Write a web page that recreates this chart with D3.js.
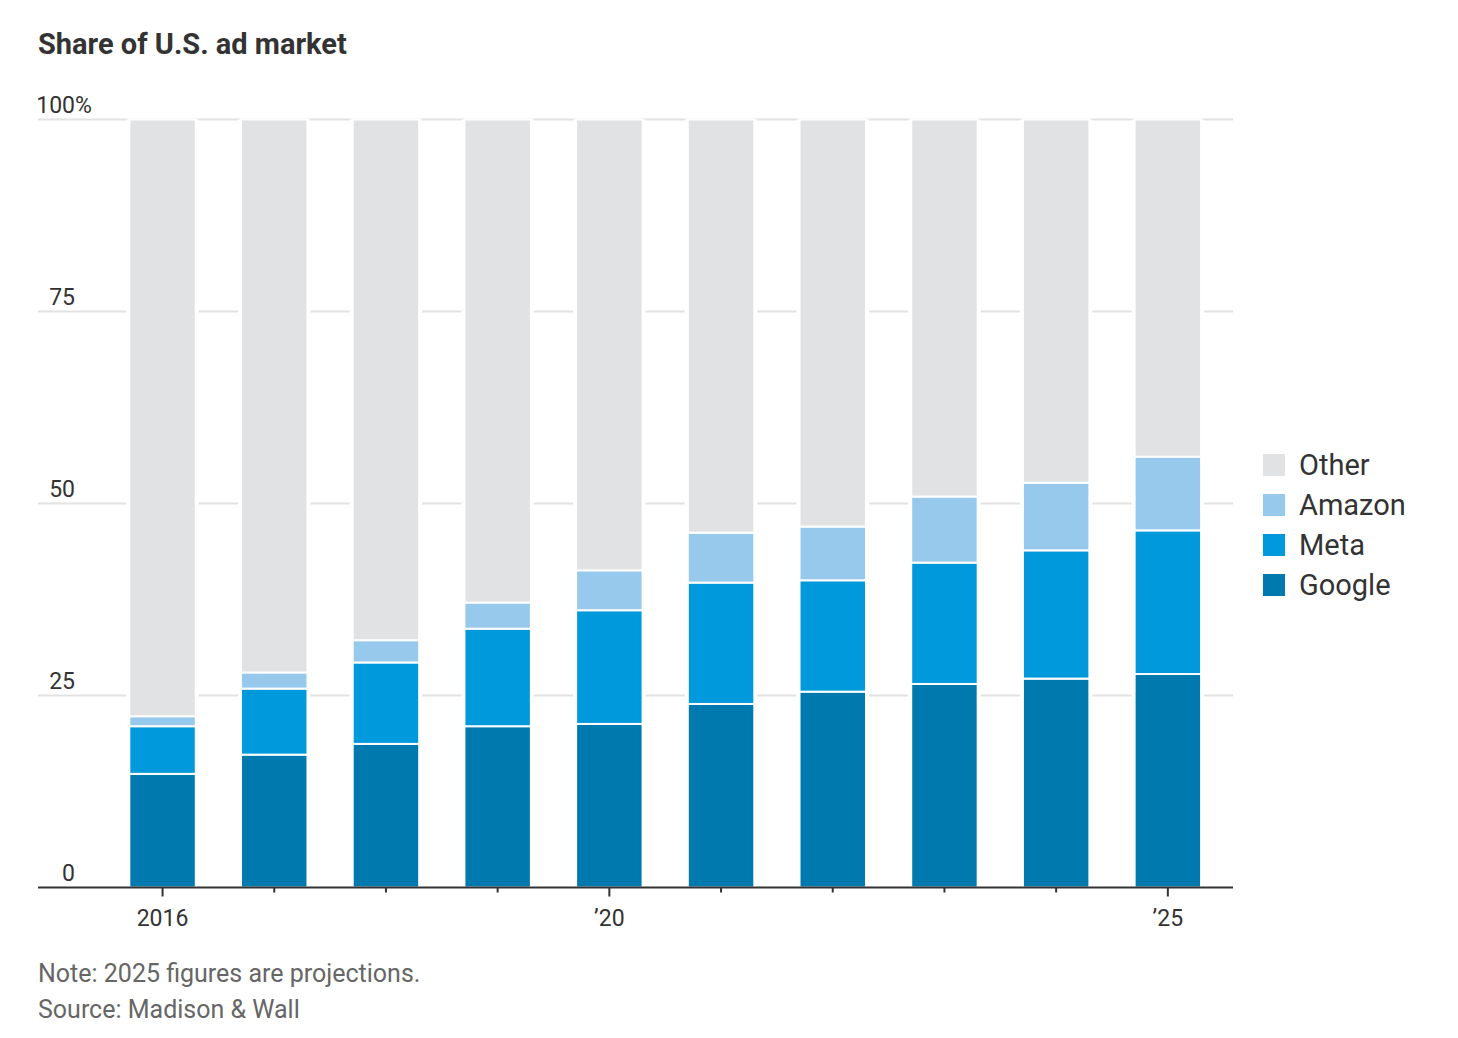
<!DOCTYPE html>
<html>
<head>
<meta charset="utf-8">
<script src="https://cdn.jsdelivr.net/npm/d3@7"></script>
<style>
  body { margin: 0; background: #fff; }
  text { font-family: Roboto, "Noto Sans", sans-serif; }
</style>
</head>
<body>
<div id="chart"></div>
<script>
// values (percent of U.S. ad market)
const years = [2016, 2017, 2018, 2019, 2020, 2021, 2022, 2023, 2024, 2025];
const google = [14.8, 17.3, 18.7, 21.0, 21.3, 23.9, 25.5, 26.5, 27.2, 27.8];
const meta = [6.2, 8.6, 10.6, 12.7, 14.8, 15.8, 14.5, 15.8, 16.7, 18.7];
const amazon = [1.3, 2.1, 2.9, 3.4, 5.2, 6.5, 7.0, 8.6, 8.8, 9.6];
const other = years.map((y, i) => 100 - google[i] - meta[i] - amazon[i]);

const seriesNames = ["Google", "Meta", "Amazon", "Other"];
const yTicks = [0, 25, 50, 75, 100];
const xTickLabels = {2016: "2016", 2020: "\u201920", 2025: "\u201925"};

const colors = {
  "Google": "#0079ae",
  "Meta": "#0099dc",
  "Amazon": "#97c9ec",
  "Other": "#e1e2e4"
};

const width = 1458, height = 1038;
const margin = {left: 38, right: 225, top: 120, bottom: 151};

const svg = d3.select("#chart").append("svg")
  .attr("width", width)
  .attr("height", height);

const table = years.map((y, i) => ({
  year: y, Google: google[i], Meta: meta[i], Amazon: amazon[i], Other: other[i]
}));
const stacked = d3.stack().keys(seriesNames)(table);

const x = d3.scaleBand()
  .domain(years)
  .range([106.7, 1223.7])
  .paddingInner(0.405)
  .paddingOuter(0.2025);

const y = d3.scaleLinear()
  .domain([0, 100])
  .range([height - margin.bottom + 0.5, 119.5]);

const plotRight = width - margin.right;

// gridlines
svg.append("g").selectAll("line.grid")
  .data(yTicks.filter(t => t > 0)).enter()
  .append("line")
  .attr("x1", margin.left)
  .attr("x2", plotRight)
  .attr("y1", d => y(d))
  .attr("y2", d => y(d))
  .attr("stroke", "#e2e2e2")
  .attr("stroke-width", 2);

// y labels
svg.append("g").selectAll("text.ylab")
  .data(yTicks).enter()
  .append("text")
  .attr("x", 75)
  .attr("y", d => y(d) - 7)
  .attr("text-anchor", "end")
  .attr("fill", "#333")
  .style("font-size", "23px")
  .text(d => d);
svg.append("text")
  .attr("x", 75)
  .attr("y", y(100) - 7)
  .attr("fill", "#333")
  .style("font-size", "23px")
  .text("%");

// white halo behind each bar to break gridlines
svg.append("g").selectAll("rect.halo")
  .data(years).enter()
  .append("rect")
  .attr("x", d => x(d) - 3)
  .attr("width", x.bandwidth() + 6)
  .attr("y", y(100))
  .attr("height", y(0) - y(100))
  .attr("fill", "#fff");

// bars
svg.append("g").selectAll("g.series")
  .data(stacked).enter()
  .append("g")
  .attr("fill", d => colors[d.key])
  .selectAll("rect")
  .data(d => d).enter()
  .append("rect")
  .attr("x", d => x(d.data.year))
  .attr("width", x.bandwidth())
  .attr("y", d => y(d[1]))
  .attr("height", d => y(d[0]) - y(d[1]))
  .attr("stroke", "#fff")
  .attr("stroke-width", 2);

// x axis
svg.append("line")
  .attr("x1", margin.left)
  .attr("x2", plotRight)
  .attr("y1", y(0))
  .attr("y2", y(0))
  .attr("stroke", "#333")
  .attr("stroke-width", 2);

svg.append("g").selectAll("line.tick")
  .data(years).enter()
  .append("line")
  .attr("x1", d => x(d) + x.bandwidth() / 2)
  .attr("x2", d => x(d) + x.bandwidth() / 2)
  .attr("y1", y(0))
  .attr("y2", d => y(0) + (xTickLabels[d] ? 9 : 5))
  .attr("stroke", "#333")
  .attr("stroke-width", 2);

svg.append("g").selectAll("text.xlab")
  .data(years.filter(d => xTickLabels[d])).enter()
  .append("text")
  .attr("x", d => x(d) + x.bandwidth() / 2)
  .attr("y", 926)
  .attr("text-anchor", "middle")
  .attr("fill", "#333")
  .style("font-size", "23px")
  .text(d => xTickLabels[d]);

// legend
const legend = svg.append("g").selectAll("g.legend")
  .data(seriesNames.slice().reverse()).enter()
  .append("g")
  .attr("transform", (d, i) => `translate(1263, ${454 + i * 40})`);
legend.append("rect")
  .attr("width", 22)
  .attr("height", 22)
  .attr("fill", d => colors[d]);
legend.append("text")
  .attr("x", 36)
  .attr("y", 21)
  .attr("fill", "#333")
  .style("font-size", "29px")
  .text(d => d);

// title and notes
svg.append("text")
  .attr("x", 38)
  .attr("y", 54)
  .attr("fill", "#333")
  .style("font-size", "29px")
  .style("font-weight", "bold")
  .text("Share of U.S. ad market");

svg.append("text")
  .attr("x", 38)
  .attr("y", 982)
  .attr("fill", "#666")
  .style("font-size", "25px")
  .text("Note: 2025 figures are projections.");
svg.append("text")
  .attr("x", 38)
  .attr("y", 1018)
  .attr("fill", "#666")
  .style("font-size", "25px")
  .text("Source: Madison & Wall");
</script>
</body>
</html>
